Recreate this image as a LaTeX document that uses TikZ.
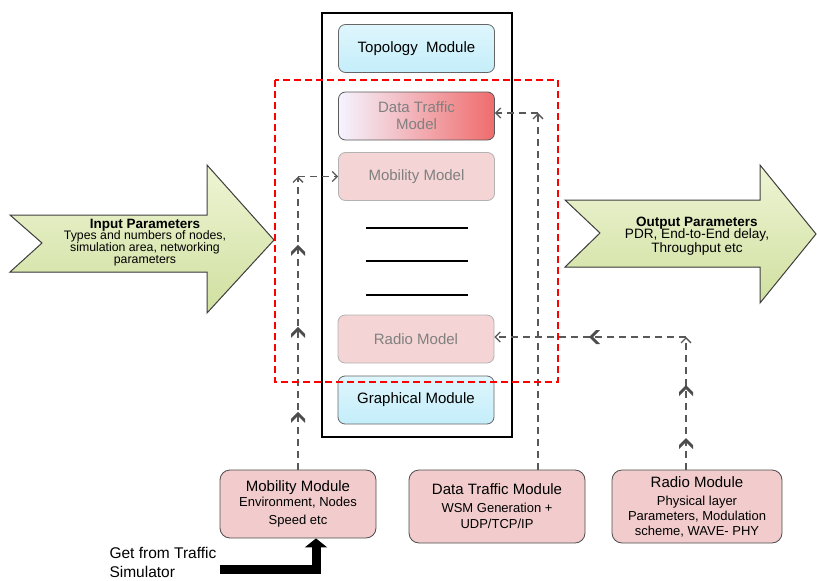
\documentclass[tikz,border=0pt]{standalone}
\usepackage{fontspec}
\setmainfont{Liberation Sans}
\usetikzlibrary{arrows.meta,decorations.markings}
\definecolor{modcyan}{RGB}{196,238,250}
\definecolor{modpink}{RGB}{242,204,204}
\definecolor{fadepink}{RGB}{244,212,212}
\definecolor{dtleft}{RGB}{244,244,255}
\definecolor{dtright}{RGB}{240,108,108}
\definecolor{arrlight}{RGB}{238,244,212}
\definecolor{arrdark}{RGB}{208,224,160}
\definecolor{conngray}{RGB}{88,88,88}
\newcommand{\subtxt}{\fontsize{13}{14}\selectfont}

\begin{document}
\begin{tikzpicture}[x=1pt,y=-1pt]
      \tikzstyle{box}=[rounded corners=7pt,line width=0.8pt,minimum width=156pt,minimum height=48pt,inner sep=1pt,align=center,font=\fontsize{15}{17}\selectfont]
      \tikzstyle{cyanbox}=[box,draw=gray!80!black,top color=modcyan!55,bottom color=modcyan]
      \tikzstyle{fadebox}=[box,draw=gray!60,fill=fadepink,text=gray]
      \tikzstyle{srcbox}=[box,draw=black!70,fill=modpink,rounded corners=10pt]
      \tikzstyle{bigarrow}=[draw=black!75,line width=1pt,top color=arrlight,bottom color=arrdark]
      \tikzstyle{conn}=[conngray,line width=1.3pt,dash pattern=on 7pt off 5pt,-{Straight Barb[length=5pt,width=10pt]}]
      \tikzset{chev/.style={postaction={decorate,decoration={markings,mark=at position #1 with {\fill[black!70] (5pt,0pt) -- (-2pt,7pt) -- (-6pt,7pt) -- (1pt,0pt) -- (-6pt,-7pt) -- (-2pt,-7pt) -- cycle;}}}}}

      \useasboundingbox (0,0) rectangle (817,581);

      % input and output parameters
      \filldraw[bigarrow] (10,215) -- (207,215) -- (207,165) -- (274,240) -- (207,313) -- (207,272) -- (10,272) -- (42,243) -- cycle;
      \node[align=center] (inp) at (145,243) {\fontsize{13.5}{15}\selectfont\bfseries Input Parameters\\[-1pt]
        \fontsize{12.3}{15.5}\selectfont Types and numbers of nodes,\\ \fontsize{12.3}{15.5}\selectfont simulation area, networking\\ \fontsize{12.3}{15.5}\selectfont parameters};
      \filldraw[bigarrow] (565,200) -- (760,200) -- (760,165) -- (816,234) -- (760,303) -- (760,267) -- (565,267) -- (600,233) -- cycle;
      \node[align=center] (outp) at (697,236) {\fontsize{13.5}{15}\selectfont\bfseries Output Parameters\\[-1pt]
        \fontsize{13.6}{15}\selectfont PDR, End-to-End delay,\\ \fontsize{13.6}{15}\selectfont Throughput etc};

      % simulator frame
      \node[draw=black,line width=1.3pt,minimum width=190pt,minimum height=424pt] (frame) at (417,225) {};
      \node[cyanbox] (topo) at (416.5,48.5) {Topology\ \ Module};
      \node[box,draw=black!65,left color=dtleft,right color=dtright,text=gray] (dtmodel) at (416.5,116) {Data Traffic\\Model};
      \node[fadebox] (mobmodel) at (416.5,176.5) {Mobility Model};
      \draw[line width=1.5pt] (366,228) -- (468,228);
      \draw[line width=1.5pt] (366,261) -- (468,261);
      \draw[line width=1.5pt] (366,295) -- (468,295);
      \node[fadebox] (radiomodel) at (416,339) {Radio Model};
      \node[cyanbox] (graphmod) at (416,400) {Graphical Module};

      % source modules
      \node[srcbox,minimum width=156pt,minimum height=68pt] (mobmod) at (298,504) {Mobility Module\\[-2pt]
        \subtxt Environment, Nodes\\[1pt] \subtxt Speed etc};
      \node[srcbox,minimum width=176pt,minimum height=73pt] (dtmod) at (497,506.5) {Data Traffic Module\\[1pt]
        \subtxt WSM Generation +\\[-1pt] \subtxt UDP/TCP/IP};
      \node[srcbox,minimum width=170pt,minimum height=73pt] (radiomod) at (697,506.5) {Radio Module\\[1pt]
        \subtxt Physical layer\\[-2pt] \subtxt Parameters, Modulation\\[-2pt] \subtxt scheme, WAVE- PHY};
      \node[anchor=west,align=left,font=\fontsize{15.5}{19}\selectfont] (get) at (106,562) {Get from Traffic\\Simulator};

      % connectors
      \coordinate (mcorner) at (mobmod.north |- mobmodel.west);
      \coordinate (dcorner) at (538,113);
      \coordinate (rcorner) at (686,337);
      \coordinate (gbend) at (316,569);
      \draw[conn,chev=0.18,chev=0.47,chev=0.75] (mobmod.north) -- (mcorner);
      \draw[conn] (mcorner) -- (mobmodel.west);
      \draw[conn] (dtmod.north -| dcorner) -- (dcorner);
      \draw[conn] (dcorner) -- (dtmodel.east |- dcorner);
      \draw[conn,chev=0.2,chev=0.6] (radiomod.north -| rcorner) -- (rcorner);
      \draw[conn,chev=0.48] (rcorner) -- (radiomodel.east |- rcorner);
      \draw[line width=9pt,-{Triangle[length=9pt,width=22pt]}] (get.east |- gbend) -- (gbend) -- (gbend |- mobmod.south);

      % region
      \draw[red,line width=1.5pt,dash pattern=on 7pt off 4pt] (275,80) rectangle (558,382);
\end{tikzpicture}
\end{document}
